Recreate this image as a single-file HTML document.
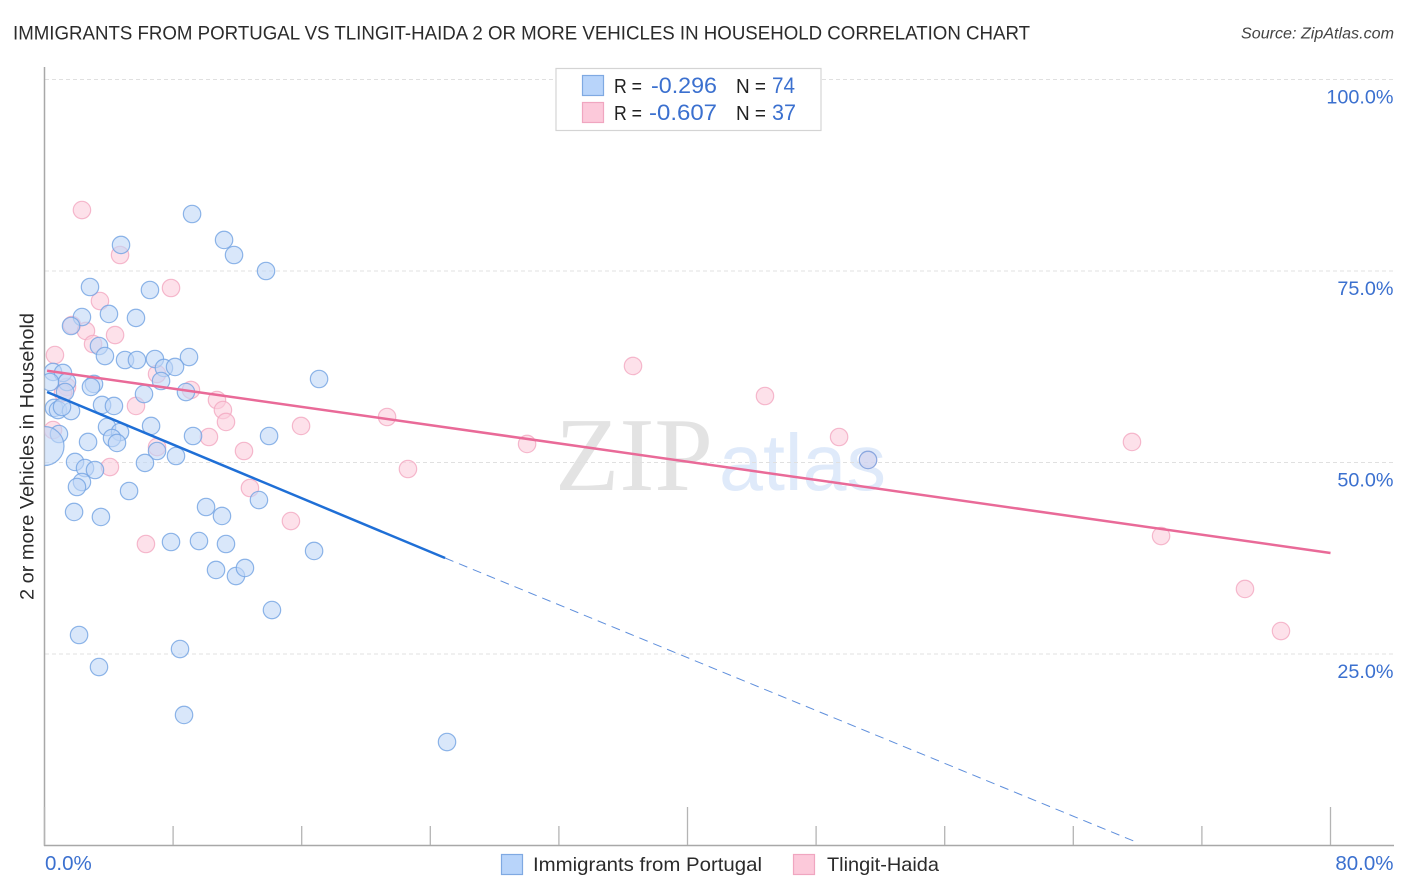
<!DOCTYPE html>
<html lang="en">
<head>
<meta charset="utf-8">
<title>Immigrants from Portugal vs Tlingit-Haida Correlation Chart</title>
<style>
html,body{margin:0;padding:0;background:#fff;width:1406px;height:892px;overflow:hidden}
svg{display:block}
text{font-family:"Liberation Sans",sans-serif}
</style>
</head>
<body>
<svg id="chart" width="1406" height="892" viewBox="0 0 1406 892" xmlns="http://www.w3.org/2000/svg">
  <defs><clipPath id="plot-clip"><rect x="44.5" y="68" width="1350" height="778"/></clipPath></defs>
  <text x="13" y="39.5" font-size="19.5" fill="#2b2b2b" textLength="1017" lengthAdjust="spacingAndGlyphs">IMMIGRANTS FROM PORTUGAL VS TLINGIT-HAIDA 2 OR MORE VEHICLES IN HOUSEHOLD CORRELATION CHART</text>
  <text x="1241" y="38.5" font-size="15.5" font-style="italic" fill="#444" textLength="153" lengthAdjust="spacingAndGlyphs">Source: ZipAtlas.com</text>
  <g>
    <text x="555" y="490" font-size="105" fill="#e3e3e3" style="font-family:'Liberation Serif',serif" textLength="158" lengthAdjust="spacingAndGlyphs">ZIP</text>
    <text x="719" y="490" font-size="80" fill="#dfeafa" textLength="167" lengthAdjust="spacingAndGlyphs">atlas</text>
  </g>
  <g id="grid"></g>
  <g id="axes"></g>
  <g id="marks" clip-path="url(#plot-clip)"></g>
  <g id="trends"></g>
  <g id="labels"></g>
  <text transform="translate(33.5,600) rotate(-90)" font-size="19.5" fill="#2b2b2b" textLength="287" lengthAdjust="spacingAndGlyphs">2 or more Vehicles in Household</text>
  <g>
    <rect x="556" y="68.5" width="265" height="62" fill="#fff" stroke="#d4d4d4" stroke-width="1.2"/>
    <rect x="582.5" y="75.5" width="21" height="20" fill="#b8d4fa" stroke="#7fa9e2" stroke-width="1.2"/>
    <rect x="582.5" y="102.5" width="21" height="20" fill="#fcc9da" stroke="#f0a6c0" stroke-width="1.2"/>
    <text x="614" y="93" font-size="20" fill="#222" textLength="28" lengthAdjust="spacingAndGlyphs">R =</text>
    <text x="651" y="93" font-size="22" fill="#3b70cf" textLength="66" lengthAdjust="spacingAndGlyphs">-0.296</text>
    <text x="736" y="93" font-size="20" fill="#222" textLength="30" lengthAdjust="spacingAndGlyphs">N =</text>
    <text x="772" y="93" font-size="22" fill="#3b70cf" textLength="23" lengthAdjust="spacingAndGlyphs">74</text>
    <text x="614" y="120" font-size="20" fill="#222" textLength="28" lengthAdjust="spacingAndGlyphs">R =</text>
    <text x="649" y="120" font-size="22" fill="#3b70cf" textLength="68" lengthAdjust="spacingAndGlyphs">-0.607</text>
    <text x="736" y="120" font-size="20" fill="#222" textLength="30" lengthAdjust="spacingAndGlyphs">N =</text>
    <text x="772" y="120" font-size="22" fill="#3b70cf" textLength="24" lengthAdjust="spacingAndGlyphs">37</text>
  </g>
  <g>
    <rect x="501.5" y="854.5" width="21" height="20" fill="#b8d4fa" stroke="#7fa9e2" stroke-width="1.2"/>
    <text x="533" y="871" font-size="19.5" fill="#2b2b2b" textLength="229" lengthAdjust="spacingAndGlyphs">Immigrants from Portugal</text>
    <rect x="793.5" y="854.5" width="21" height="20" fill="#fcc9da" stroke="#f0a6c0" stroke-width="1.2"/>
    <text x="827" y="871" font-size="19.5" fill="#2b2b2b" textLength="112" lengthAdjust="spacingAndGlyphs">Tlingit-Haida</text>
  </g>
</svg>
<script>
const xTickValues = [0, 8, 16, 24, 32, 40, 48, 56, 64, 72, 80];
const xMajorTicks = [0, 40, 80];
const xLabelValues = ["0.0%", "80.0%"];
const yTickValues = [100, 75, 50, 25];
const yTickLabels = ["100.0%", "75.0%", "50.0%", "25.0%"];

const portugalX = [9.18,4.76,11.17,11.79,13.78,2.83,6.56,4.01,2.33,1.65,5.69,3.39,3.76,5.01,5.75,6.87,8.99,7.43,8.12,17.08,0.53,1.15,0.34,1.40,7.25,3.08,2.89,1.28,8.80,6.19,3.58,4.32,6.63,3.89,4.70,4.20,4.51,2.71,0.90,9.24,13.97,7.00,8.18,6.25,1.90,2.52,3.14,2.33,2.02,5.26,1.84,3.51,10.05,11.04,13.34,7.87,9.61,11.29,16.77,10.67,11.91,12.47,14.15,2.15,8.43,3.39,8.68,25.04,0.59,0.84,1.65,1.09,51.23];
const portugalY = [82.44,78.40,79.05,77.09,75.00,72.91,72.52,69.39,68.99,67.82,68.87,65.21,63.90,63.38,63.38,63.51,63.77,62.34,62.47,60.90,61.82,61.69,60.51,60.51,60.64,60.25,59.86,59.20,59.20,58.94,57.51,57.38,54.77,54.63,53.98,53.20,52.55,52.68,53.72,53.46,53.46,51.50,50.85,49.94,50.07,49.28,49.02,47.45,46.80,46.28,43.54,42.89,44.19,43.02,45.10,39.62,39.75,39.36,38.45,35.97,35.18,36.23,30.74,27.48,25.65,23.30,17.04,13.51,57.12,56.85,56.72,57.25,50.33];
const portugalLargeX = [0];
const portugalLargeY = [52.15];

const tlingitX = [2.33,4.70,7.87,3.45,1.71,2.58,4.39,3.02,0.65,7.00,9.11,1.40,1.15,10.73,5.69,11.10,10.23,11.29,12.41,7.00,4.07,12.78,15.33,0.53,6.31,15.96,21.31,22.61,30.02,36.61,44.82,49.43,51.23,67.65,69.46,74.68,76.92];
const tlingitY = [82.96,77.09,72.78,71.08,67.95,67.17,66.64,65.47,64.03,61.55,59.47,59.86,59.07,58.16,57.38,56.85,53.33,55.29,51.50,52.02,49.41,46.67,42.36,54.24,39.36,54.77,55.94,49.15,52.42,62.60,58.68,53.33,50.33,52.68,40.40,33.49,28.00];

const portugalTrendX = [0.16, 24.92];
const portugalTrendY = [59.20, 37.53];
const portugalDashX = [24.92, 67.90];
const portugalDashY = [37.53, 0.46];
const tlingitTrendX = [0.16, 80];
const tlingitTrendY = [61.98, 38.19];

const NS = 'http://www.w3.org/2000/svg';
const sx = v => 44.5 + v * 16.075;
const sy = v => 845.5 - v * 7.66;
function mk(parent, tag, attrs) {
  const el = document.createElementNS(NS, tag);
  for (const k in attrs) el.setAttribute(k, attrs[k]);
  parent.appendChild(el);
  return el;
}
const grid = document.getElementById('grid');
const axes = document.getElementById('axes');
const marks = document.getElementById('marks');
const trends = document.getElementById('trends');
const labels = document.getElementById('labels');

yTickValues.forEach(v => {
  const el = mk(grid, 'line', {x1: 45, x2: 1394, y1: sy(v), y2: sy(v), stroke: '#e0e0e0', 'stroke-width': 1, 'stroke-dasharray': '4 3'});
  
  
});

const yAxis = mk(axes, 'line', {x1: 44.5, x2: 44.5, y1: 67, y2: 846, stroke: '#a8a8a8', 'stroke-width': 1.5});


const xAxis = mk(axes, 'line', {x1: 44, x2: 1394, y1: 845.5, y2: 845.5, stroke: '#a8a8a8', 'stroke-width': 1.5});


xTickValues.forEach(v => {
  const top = xMajorTicks.includes(v) ? 807 : 826;
  const el = mk(axes, 'line', {x1: sx(v), x2: sx(v), y1: top, y2: 845, stroke: '#b4b4b4', 'stroke-width': 1.3});
  
  
});

function point(x, y, r, fill, stroke, name) {
  const el = mk(marks, 'circle', {cx: sx(x), cy: sy(y), r: r, fill: fill, 'fill-opacity': 0.6, stroke: stroke, 'stroke-opacity': 0.8, 'stroke-width': 1.2});
  
  
}
tlingitX.forEach((x, i) => point(x, tlingitY[i], 8.7, '#fbcddc', '#f2a8c1', 'point-tlingit-haida'));
portugalX.forEach((x, i) => point(x, portugalY[i], 8.7, '#bfd7f6', '#72a2e2', 'point-portugal'));
portugalLargeX.forEach((x, i) => point(x, portugalLargeY[i], 19.5, '#bfd7f6', '#72a2e2', 'point-portugal-large'));

const dash = mk(trends, 'line', {x1: sx(portugalDashX[0]), y1: sy(portugalDashY[0]), x2: sx(portugalDashX[1]), y2: sy(portugalDashY[1]), stroke: '#5f8fdc', 'stroke-width': 1, 'stroke-dasharray': '9 6'});


const blueLine = mk(trends, 'line', {x1: sx(portugalTrendX[0]), y1: sy(portugalTrendY[0]), x2: sx(portugalTrendX[1]), y2: sy(portugalTrendY[1]), stroke: '#1f6fd6', 'stroke-width': 2.5});


const pinkLine = mk(trends, 'line', {x1: sx(tlingitTrendX[0]), y1: sy(tlingitTrendY[0]), x2: sx(tlingitTrendX[1]), y2: sy(tlingitTrendY[1]), stroke: '#e96a98', 'stroke-width': 2.5});



yTickValues.forEach((v, i) => {
  const el = mk(labels, 'text', {x: 1393.5, y: sy(v) + 24, 'text-anchor': 'end', 'font-size': 19.8, fill: '#3b70cf'});
  el.textContent = yTickLabels[i];
  
  
});
const xLeft = mk(labels, 'text', {x: 45, y: 870, 'font-size': 20.5, fill: '#3b70cf'});
xLeft.textContent = xLabelValues[0];


const xRight = mk(labels, 'text', {x: 1393.5, y: 870, 'text-anchor': 'end', 'font-size': 20.5, fill: '#3b70cf'});
xRight.textContent = xLabelValues[1];


</script>
</body>
</html>
